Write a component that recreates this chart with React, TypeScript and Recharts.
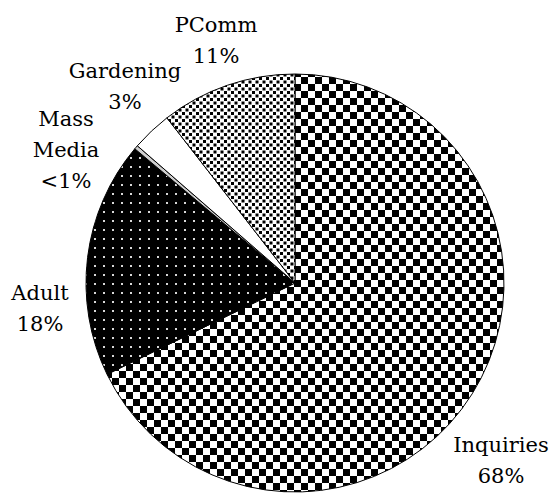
import { PieChart, Pie, Cell } from "recharts";

// slices, clockwise from 12 o'clock
const CATEGORIES = ["Inquiries", "Adult", "Mass Media", "Gardening", "PComm"];
const SHARES = [67.8, 18.3, 0.3, 3.1, 10.5];
const SHARE_LABELS = ["68%", "18%", "<1%", "3%", "11%"];

const FILLS = ["url(#checker)", "url(#dots)", "#cfcfcf", "#ffffff", "url(#speckle)"];

// label anchor relative to the pie centre (first baseline), one per slice
const LABEL_OFFSETS: Record<string, [number, number]> = {
  Inquiries: [206, 169],
  Adult: [-255, 17],
  "Mass Media": [-229, -157],
  Gardening: [-170, -205],
  PComm: [-79, -251],
};

const CX = 295;
const CY = 283;
const R = 209;
const FONT = "DejaVu Serif";
const LINE_H = 31;

const data = CATEGORIES.map((name, i) => ({ name, value: SHARES[i] }));

function SliceLabels() {
  return (
    <g>
      {CATEGORIES.map((name, i) => {
        const [dx, dy] = LABEL_OFFSETS[name];
        const lines = [...name.split(" "), SHARE_LABELS[i]];
        return lines.map((l, j) => (
          <text
            key={name + j}
            x={CX + dx}
            y={CY + dy + j * LINE_H}
            textAnchor="middle"
            fontFamily={FONT}
            fontSize={21}
            fill="#000"
          >
            {l}
          </text>
        ));
      })}
    </g>
  );
}

export default function App() {
  return (
    <div style={{ position: "absolute", left: 0, top: 0, background: "#fff" }}>
      <PieChart width={551} height={493} margin={{ top: 0, right: 0, bottom: 0, left: 0 }}>
        <defs>
          <pattern id="checker" width={14} height={14} patternUnits="userSpaceOnUse">
            <rect width={14} height={14} fill="#fff" />
            <rect x={0} y={0} width={7} height={7} fill="#000" />
            <rect x={7} y={7} width={7} height={7} fill="#000" />
          </pattern>
          <pattern id="dots" width={9} height={9} patternUnits="userSpaceOnUse">
            <rect width={9} height={9} fill="#000" />
            <rect x={4} y={4} width={2} height={2} fill="#d8d8d8" />
          </pattern>
          <pattern id="speckle" width={7} height={7} patternUnits="userSpaceOnUse">
            <rect width={7} height={7} fill="#fff" />
            <rect x={0} y={0} width={3} height={3} fill="#000" />
            <rect x={3.5} y={3.5} width={3} height={3} fill="#000" />
          </pattern>
        </defs>
        <Pie
          data={data}
          dataKey="value"
          nameKey="name"
          cx={CX}
          cy={CY}
          outerRadius={R}
          startAngle={90}
          endAngle={-270}
          stroke="#000"
          strokeWidth={1}
          labelLine={false}
          isAnimationActive={false}
        >
          {data.map((d, i) => (
            <Cell key={d.name} fill={FILLS[i]} />
          ))}
        </Pie>
        <SliceLabels />
      </PieChart>
    </div>
  );
}
